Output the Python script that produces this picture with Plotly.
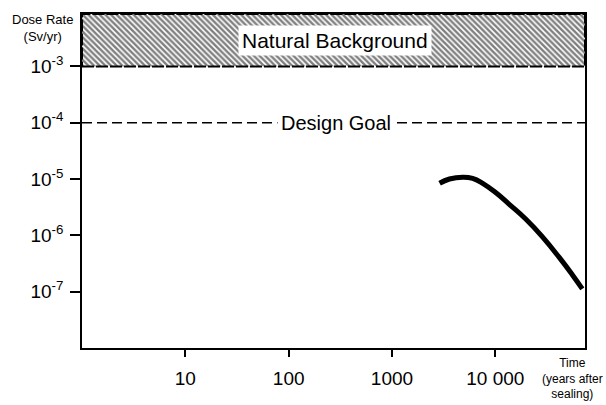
import plotly.graph_objects as go

# Dose-rate curve after repository sealing
time_years = [2890, 3600, 4840, 6030, 7550, 10150, 13650, 19800, 28600, 41400, 55600, 69500]
dose_sv_yr = [8.4e-6, 1.0e-5, 1.08e-5, 1.03e-5, 8.4e-6, 5.7e-6, 3.56e-6, 1.93e-6,
              9.4e-7, 4.1e-7, 2.0e-7, 1.12e-7]

# Reference levels
natural_background = 1e-3
design_goal = 1e-4

# Axis ticks
x_ticks = [10, 100, 1000, 10000]
x_tick_labels = ["10", "100", "1000", "10 000"]
y_ticks = [1e-3, 1e-4, 1e-5, 1e-6, 1e-7]
y_tick_labels = ["10<sup>-3</sup>", "10<sup>-4</sup>", "10<sup>-5</sup>",
                 "10<sup>-6</sup>", "10<sup>-7</sup>"]

x_log_range = [0, 4.868]
y_log_range = [-8.0, -2.07]
x_lo, x_hi = 10 ** x_log_range[0], 10 ** x_log_range[1]
y_top = 10 ** y_log_range[1]

font_family = "Liberation Sans, Arial, Helvetica, sans-serif"

fig = go.Figure()

# Hatched band above the natural background level
fig.add_trace(go.Scatter(
    x=[x_lo, x_hi, x_hi, x_lo, x_lo],
    y=[natural_background, natural_background, y_top, y_top, natural_background],
    mode="lines",
    fill="toself",
    fillcolor="white",
    fillpattern=dict(shape="\\", size=4, solidity=0.6, fgcolor="black", bgcolor="white"),
    line=dict(color="black", width=2, dash="12px,2px"),
    hoverinfo="skip",
    showlegend=False,
))

# Dose curve
fig.add_trace(go.Scatter(
    x=time_years, y=dose_sv_yr,
    mode="lines",
    line=dict(color="black", width=5, shape="spline", smoothing=1.3),
    showlegend=False,
))

# Design goal dashed line
fig.add_shape(type="line", xref="paper", x0=0, x1=1, yref="y",
              y0=design_goal, y1=design_goal,
              line=dict(color="black", width=1.5, dash="10px,5px"))

fig.add_annotation(x=0.502, xref="paper", y=-3.0 + 0.46, yref="y",
                   text="Natural Background", showarrow=False,
                   font=dict(family=font_family, size=21, color="black"),
                   bgcolor="white", borderpad=3)
fig.add_annotation(x=0.505, xref="paper", y=-4, yref="y",
                   text="Design Goal", showarrow=False,
                   font=dict(family=font_family, size=20, color="black"),
                   bgcolor="white", borderpad=3)

# Axis titles
fig.add_annotation(x=-0.0795, xref="paper", y=1.0, yref="paper", text="Dose Rate<br>(Sv/yr)",
                   showarrow=False, xanchor="center", yanchor="top", yshift=4,
                   font=dict(family=font_family, size=13, color="black"))
fig.add_annotation(x=1.0, xref="paper", y=0, yref="paper",
                   text="Time<br>(years after<br>sealing)", showarrow=False,
                   xanchor="center", yanchor="top", yshift=-6, xshift=-13,
                   font=dict(family=font_family, size=12, color="black"))

fig.update_xaxes(type="log", range=x_log_range, tickvals=x_ticks, ticktext=x_tick_labels,
                 ticks="outside", ticklen=7, tickwidth=1.5, tickcolor="black",
                 ticklabelstandoff=5,
                 showline=True, linecolor="black", linewidth=1.5, mirror=True,
                 showgrid=False, zeroline=False,
                 tickfont=dict(family=font_family, size=19, color="black"))
fig.update_yaxes(type="log", range=y_log_range, tickvals=y_ticks, ticktext=y_tick_labels,
                 ticks="outside", ticklen=10, tickwidth=1.5, tickcolor="black",
                 ticklabelstandoff=3,
                 showline=True, linecolor="black", linewidth=1.5, mirror=True,
                 showgrid=False, zeroline=False,
                 tickfont=dict(family=font_family, size=19, color="black"))

fig.update_layout(width=606, height=405,
                  margin=dict(l=82, r=21, t=12, b=57),
                  paper_bgcolor="white", plot_bgcolor="white",
                  font=dict(family=font_family, color="black"))

fig.write_html("out.html")
